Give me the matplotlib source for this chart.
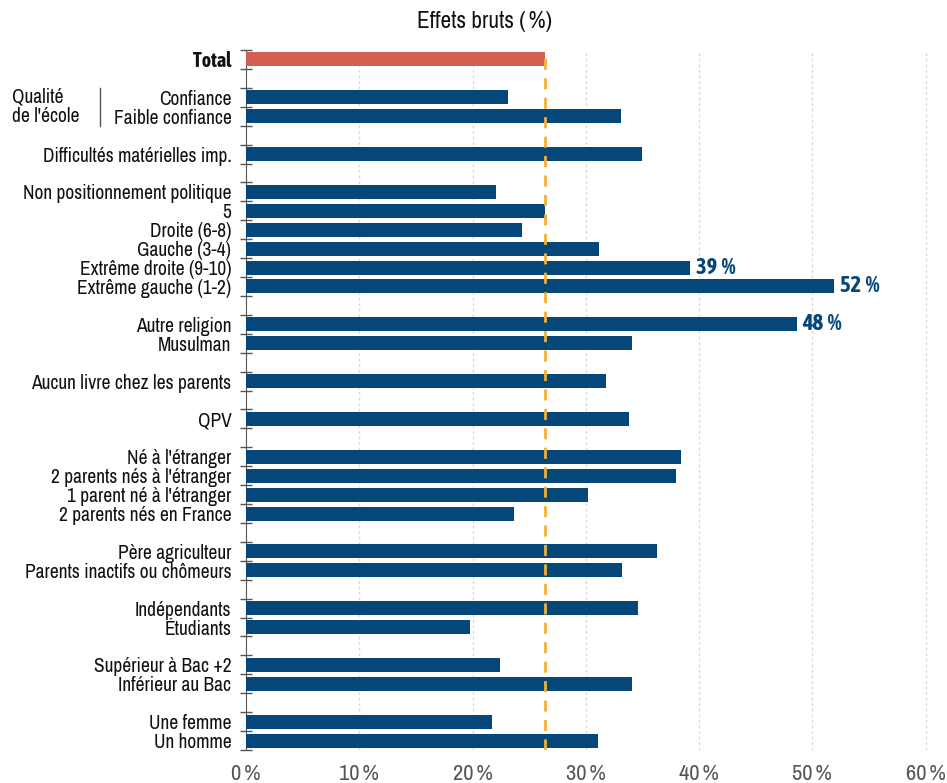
import matplotlib
matplotlib.use("Agg")
import matplotlib.pyplot as plt
from matplotlib import font_manager as fm

# pick a condensed sans if one is installed, else Roboto at a smaller size
FONT, SCALE = "Roboto", 0.92
BOLD_FONT, BOLD_SCALE = "Roboto", 0.92
reg, bold = [], []
for f in fm.fontManager.ttflist:
    nm = f.name
    if "Condensed" in nm or "Narrow" in nm:
        w = f.weight if isinstance(f.weight, int) else (700 if "bold" in str(f.weight).lower() else 400)
        if "Bold" in nm or w >= 600:
            bold.append(nm)
        else:
            reg.append(nm)
if reg:
    reg.sort(key=lambda s: (len(s), s))
    FONT, SCALE = reg[0], 1.12
    same = [b for b in bold if b == FONT]
    if same:
        BOLD_FONT, BOLD_SCALE = FONT, 1.12
    elif bold:
        bold.sort(key=lambda s: (len(s), s))
        BOLD_FONT, BOLD_SCALE = bold[0], 1.12
plt.rcParams["font.family"] = [FONT, "DejaVu Sans"]

# Data (None = spacer row)
labels = ["Total", None, "Confiance", "Faible confiance", None,
          "Difficultés matérielles imp.", None,
          "Non positionnement politique", "5", "Droite (6-8)", "Gauche (3-4)",
          "Extrême droite (9-10)", "Extrême gauche (1-2)", None,
          "Autre religion", "Musulman", None,
          "Aucun livre chez les parents", None,
          "QPV", None,
          "Né à l'étranger", "2 parents nés à l'étranger", "1 parent né à l'étranger",
          "2 parents nés en France", None,
          "Père agriculteur", "Parents inactifs ou chômeurs", None,
          "Indépendants", "Étudiants", None,
          "Supérieur à Bac +2", "Inférieur au Bac", None,
          "Une femme", "Un homme"]
values = [26.4, None, 23.1, 33.1, None,
          35.0, None,
          22.1, 26.4, 24.4, 31.2, 39.2, 51.9, None,
          48.6, 34.1, None,
          31.8, None,
          33.8, None,
          38.4, 38.0, 30.2, 23.7, None,
          36.3, 33.2, None,
          34.6, 19.8, None,
          22.4, 34.1, None,
          21.7, 31.1]
value_labels = {"Extrême droite (9-10)": "39\u2009%",
                "Extrême gauche (1-2)": "52\u2009%",
                "Autre religion": "48\u2009%"}
xticks = [0, 10, 20, 30, 40, 50, 60]
total_value = values[0]

BLUE = "#06477a"
RED = "#d35f52"
ORANGE = "#f2b134"

W, H = 947, 783
fig = plt.figure(figsize=(W / 100, H / 100), dpi=100)
ax = fig.add_axes([246 / W, 1 - 750 / H, (937 - 246) / W, 700 / H])

LS = 12.5 * SCALE
n = len(labels)
for i, (lab, v) in enumerate(zip(labels, values)):
    if v is None:
        continue
    ax.barh(i, v, height=0.74, color=RED if lab == "Total" else BLUE, zorder=3)
    if lab in value_labels:
        ax.text(v + 0.5, i, value_labels[lab], va="center", ha="left",
                fontsize=14.5 * BOLD_SCALE, fontweight="bold", color=BLUE,
                family=[BOLD_FONT, "DejaVu Sans"])

ax.set_ylim(n - 0.5, -0.5)
ax.set_xlim(0, 61)
ax.axvline(total_value, color=ORANGE, lw=2, ls=(0, (4, 3)), zorder=4)
for t in xticks[1:]:
    ax.axvline(t, color="#d9d9d9", lw=1, ls=(0, (2, 2)), zorder=1)

ax.set_xticks(xticks)
ax.set_xticklabels([f"{t}\u2009%" for t in xticks], fontsize=14.5 * SCALE, color="#555555")
ax.tick_params(axis="x", length=0, pad=10)

ax.set_yticks(range(n))
ax.set_yticklabels([l if l else "" for l in labels], fontsize=LS, color="#111111")
ax.tick_params(axis="y", length=0, pad=10.5)
tl = ax.get_yticklabels()[0]
tl.set_fontweight("bold")
tl.set_family([BOLD_FONT, "DejaVu Sans"])
tl.set_fontsize(12.8 * BOLD_SCALE)
ax.set_yticks([i - 0.5 for i in range(n + 1)], minor=True)
ax.tick_params(axis="y", which="minor", length=8, direction="inout", width=1, color="#555555")

for s in ["top", "right", "bottom"]:
    ax.spines[s].set_visible(False)
ax.spines["left"].set_color("#555555")

fig.text(485 / W, 1 - 22 / H, "Effets bruts (\u2009%)", ha="center", va="center",
         fontsize=15 * SCALE, color="#111111")
fig.text(12 / W, 1 - 97 / H, "Qualité", ha="left", va="center", fontsize=LS, color="#111111")
fig.text(12 / W, 1 - 116 / H, "de l'école", ha="left", va="center", fontsize=LS, color="#111111")
fig.add_artist(plt.Line2D([100 / W, 100 / W], [1 - 88 / H, 1 - 126 / H], color="#555555", lw=1))

fig.savefig("out.png", dpi=100)
